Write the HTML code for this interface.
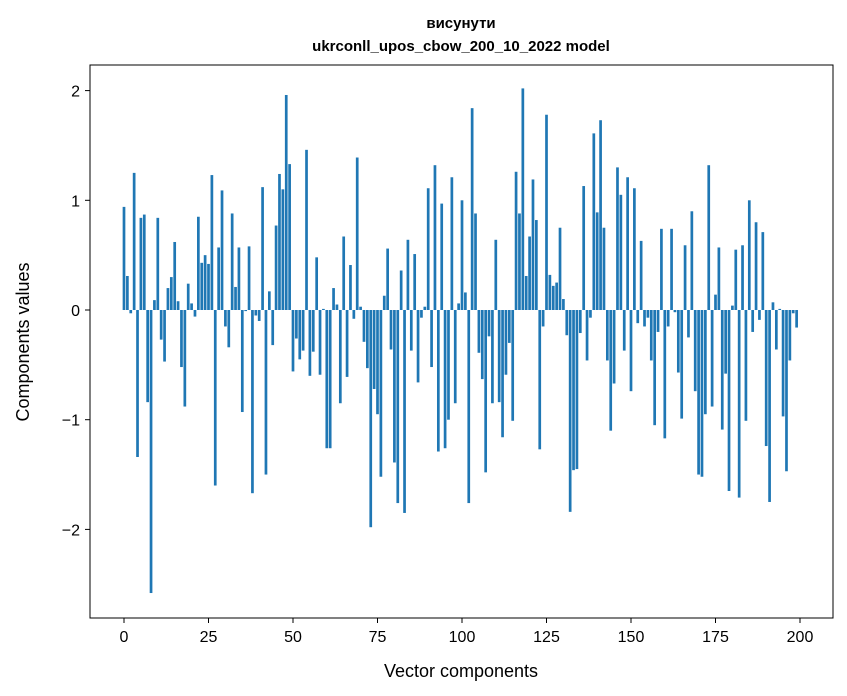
<!DOCTYPE html>
<html><head><meta charset="utf-8"><style>
body{margin:0;background:#fff;}
svg{display:block;font-family:"Liberation Sans","DejaVu Sans",sans-serif;}
</style></head><body>
<svg id="chart" width="847" height="696">
<rect width="847" height="696" fill="#fff"/>
<text x="461" y="28" text-anchor="middle" font-size="15" font-weight="bold">висунути</text>
<text x="461" y="51" text-anchor="middle" font-size="15" font-weight="bold">ukrconll_upos_cbow_200_10_2022 model</text>
<g id="bars"></g>
<g id="xticks"></g>
<g id="yticks"></g>
<rect x="90" y="65" width="743" height="553" fill="none" stroke="#000" stroke-width="1"/>
<text x="461" y="677" text-anchor="middle" font-size="18">Vector components</text>
<text transform="translate(29,342) rotate(-90)" text-anchor="middle" font-size="18">Components values</text>
</svg>
<script>
const values = [
0.94,0.31,-0.03,1.25,-1.34,0.84,0.87,-0.84,-2.58,0.09,
0.84,-0.27,-0.47,0.2,0.3,0.62,0.08,-0.52,-0.88,0.24,
0.06,-0.06,0.85,0.43,0.5,0.42,1.23,-1.6,0.57,1.09,
-0.15,-0.34,0.88,0.21,0.57,-0.93,-0.01,0.58,-1.67,-0.05,
-0.1,1.12,-1.5,0.17,-0.32,0.77,1.24,1.1,1.96,1.33,
-0.56,-0.26,-0.45,-0.37,1.46,-0.6,-0.38,0.48,-0.59,0.01,
-1.26,-1.26,0.2,0.05,-0.85,0.67,-0.61,0.41,-0.08,1.39,
0.03,-0.29,-0.53,-1.98,-0.72,-0.95,-1.52,0.13,0.56,-0.36,
-1.39,-1.76,0.36,-1.85,0.64,-0.37,0.51,-0.66,-0.07,0.03,
1.11,-0.52,1.32,-1.29,0.97,-1.26,-1.0,1.21,-0.85,0.06,
1.0,0.16,-1.76,1.84,0.88,-0.39,-0.63,-1.48,-0.24,-0.85,
0.64,-0.84,-1.16,-0.59,-0.3,-1.01,1.26,0.88,2.02,0.31,
0.67,1.19,0.82,-1.27,-0.15,1.78,0.32,0.22,0.25,0.75,
0.1,-0.23,-1.84,-1.46,-1.45,-0.21,1.13,-0.46,-0.07,1.61,
0.89,1.73,0.75,-0.46,-1.1,-0.67,1.3,1.05,-0.37,1.21,
-0.74,1.11,-0.12,0.63,-0.15,-0.07,-0.46,-1.05,-0.2,0.74,
-1.17,-0.15,0.74,-0.02,-0.57,-0.99,0.59,-0.25,0.9,-0.74,
-1.5,-1.52,-0.95,1.32,-0.88,0.14,0.57,-1.09,-0.58,-1.65,
0.04,0.55,-1.71,0.59,-1.01,1.0,-0.2,0.8,-0.09,0.71,
-1.24,-1.75,0.07,-0.36,0.01,-0.97,-1.47,-0.46,-0.03,-0.16
];
const xTickLabels = [0,25,50,75,100,125,150,175,200];
const yTickLabels = [-2,-1,0,1,2];
const NS='http://www.w3.org/2000/svg';
function xs(v){return 124 + v*3.38;}
function ys(v){return 310 - v*109.7;}
const bars=document.getElementById('bars');
values.forEach((v,i)=>{
  const r=document.createElementNS(NS,'rect');
  const y0=ys(0), y1=ys(v);
  r.setAttribute('x',xs(i-0.4));
  r.setAttribute('width',3.38*0.8);
  r.setAttribute('y',Math.min(y0,y1));
  r.setAttribute('height',Math.abs(y1-y0));
  r.setAttribute('fill','#1f77b4');
  
  
  bars.appendChild(r);
});
const xt=document.getElementById('xticks');
xTickLabels.forEach(t=>{
  const l=document.createElementNS(NS,'line');
  l.setAttribute('x1',xs(t));l.setAttribute('x2',xs(t));
  l.setAttribute('y1',618);l.setAttribute('y2',623);
  l.setAttribute('stroke','#000');
  
  
  xt.appendChild(l);
  const tx=document.createElementNS(NS,'text');
  tx.setAttribute('x',xs(t));tx.setAttribute('y',642);
  tx.setAttribute('text-anchor','middle');tx.setAttribute('font-size','16');
  tx.textContent=t;
  
  
  xt.appendChild(tx);
});
const yt=document.getElementById('yticks');
yTickLabels.forEach(t=>{
  const l=document.createElementNS(NS,'line');
  l.setAttribute('x1',85);l.setAttribute('x2',90);
  l.setAttribute('y1',ys(t));l.setAttribute('y2',ys(t));
  l.setAttribute('stroke','#000');
  
  
  yt.appendChild(l);
  const tx=document.createElementNS(NS,'text');
  tx.setAttribute('x',80);tx.setAttribute('y',ys(t)+6);
  tx.setAttribute('text-anchor','end');tx.setAttribute('font-size','16');
  tx.textContent=t<0?'\u2212'+Math.abs(t):String(t);
  
  
  yt.appendChild(tx);
});
</script>
</body></html>
